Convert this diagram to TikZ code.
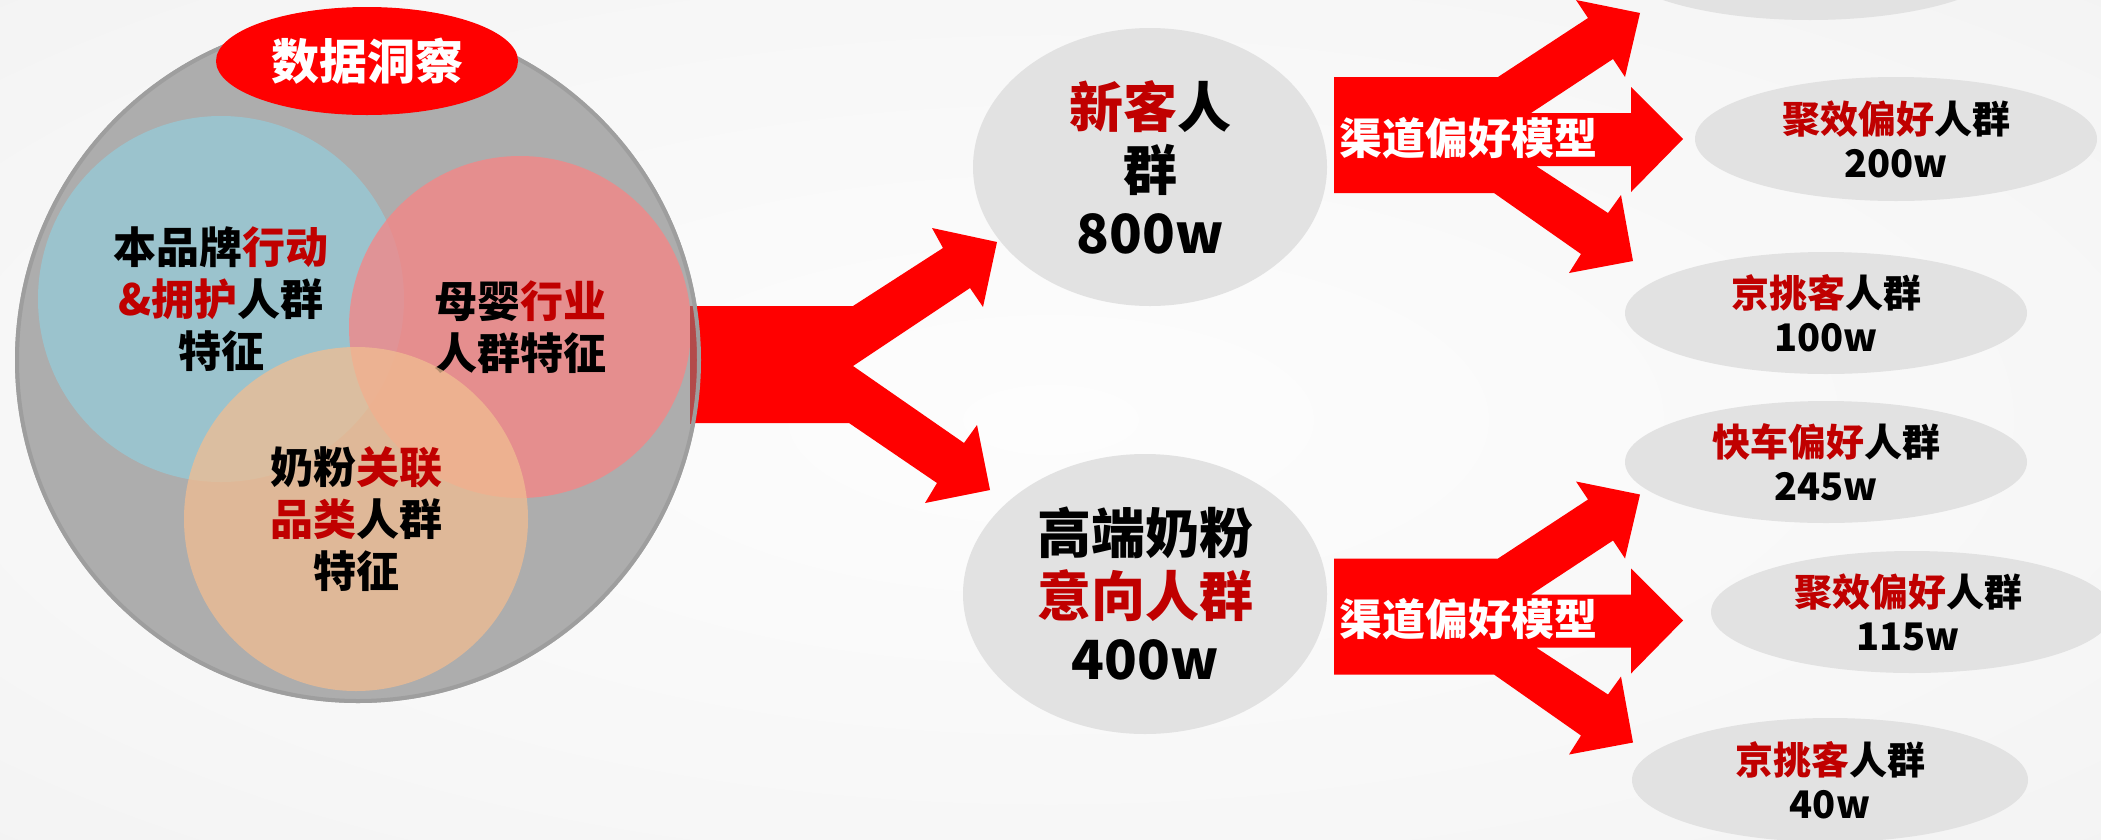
\documentclass[tikz,border=0pt]{standalone}
\usepackage{fontspec}
\setmainfont{Noto Sans CJK SC}
\usetikzlibrary{shapes.geometric}
\definecolor{cred}{HTML}{C00000}
\definecolor{bred}{HTML}{FF0000}
\definecolor{ellgray}{HTML}{E2E2E2}
\definecolor{biggray}{HTML}{ADADAD}
\definecolor{ringgray}{HTML}{9E9E9E}
\definecolor{stripred}{HTML}{B34A4A}
\definecolor{vblue}{RGB}{149,203,216}
\definecolor{vpink}{RGB}{248,132,132}
\definecolor{vorange}{RGB}{241,189,145}
\definecolor{bgA}{HTML}{FDFDFD}
\definecolor{bgB}{HTML}{F7F7F7}
\definecolor{bgC}{HTML}{E7E7E7}
\pgfdeclareradialshading{bgshade}{\pgfpoint{0bp}{0bp}}{color(0bp)=(bgA); color(25bp)=(bgB); color(71bp)=(bgC)}
\newcommand{\hl}[1]{\textcolor{cred}{#1}}
\begin{document}
\begin{tikzpicture}[x=1pt,y=-1pt,
  every node/.style={inner sep=0pt, outer sep=0pt},
  venn/.style={circle, fill opacity=0.75, text opacity=1, align=center, font=\fontsize{43}{52}\selectfont\bfseries},
  grayell/.style={ellipse, fill=ellgray},
  bigtxt/.style={align=center, font=\fontsize{54}{63}\selectfont\bfseries},
  smalltxt/.style={align=center, font=\fontsize{38}{44}\selectfont\bfseries},
  arrtxt/.style={text=white, font=\fontsize{43}{50}\selectfont\bfseries},
  blockarrow/.style={fill=bred},
]
\useasboundingbox (0,0) rectangle (2101,839);
\clip (0,0) rectangle (2101,839);
\shade[shading=bgshade] (0,0) rectangle (2101,839);

% big gray circle
\node[circle, fill=biggray, minimum size=686] (big) at (358,360) {};

% venn circles
\node[venn, fill=vblue, minimum size=366] (blue) at (221,299)
  {本品牌\hl{行动}\\\hl{\&拥护}人群\\特征};
\node[venn, fill=vpink, minimum size=342] (pink) at (520,327)
  {母婴\hl{行业}\\人群特征};
\node[venn, fill=vorange, minimum size=344] (orange) at (356,519)
  {奶粉\hl{关联}\\\hl{品类}人群\\特征};

% main fork arrow
\fill[blockarrow] (690,306) -- (853,306) -- (943,248) -- (932,228) -- (997,242)
  -- (983,307) -- (970,288) -- (853,366) -- (964,443) -- (977,425) -- (990,490)
  -- (925,503) -- (937,483) -- (849,423) -- (690,423) -- cycle;
\begin{scope}
  \clip (690,306) rectangle (703,423);
  \fill[stripred] (big.center) circle[radius=342];
\end{scope}
\draw[ringgray, line width=4] (big.center) circle[radius=341];

% title ellipse
\node[ellipse, fill=bred, minimum width=302, minimum height=108,
  text=white, font=\fontsize{48}{56}\selectfont\bfseries] (title) at (367,61) {数据洞察};

% middle ellipses
\node[grayell, minimum width=354, minimum height=278] (newc) at (1150,167) {};
\node[bigtxt] (newct) at (newc.center) {\hl{新客}人\\群\\800w};
\node[grayell, minimum width=364, minimum height=280] (high) at (1145,594) {};
\node[bigtxt] (hight) at (high.center) {高端奶粉\\\hl{意向人群}\\400w};

% small fork arrows
\foreach \dy/\nm in {0/chA, 481.5/chB}{
\begin{scope}[shift={(0,\dy)}]
\fill[blockarrow] (1334,77) -- (1498,77) -- (1588,18) -- (1576,0) -- (1640,13)
  -- (1625,77) -- (1613,59) -- (1531,113) -- (1631,113) -- (1631,87) -- (1683,139)
  -- (1631,192) -- (1631,166) -- (1536,166) -- (1608,213) -- (1621,195) -- (1633,261)
  -- (1569,273) -- (1581,254) -- (1494,193) -- (1334,193) -- cycle;
\node[arrtxt] (\nm) at (1468,138) {渠道偏好模型};
\end{scope}
}

% right ellipses
\node[grayell, minimum width=400, minimum height=124] (e0) at (1810,-42) {};
\node[grayell, minimum width=402, minimum height=124] (e1) at (1896,139) {};
\node[smalltxt] (e1t) at (e1.center) {\hl{聚效偏好}人群\\200w};
\node[grayell, minimum width=402, minimum height=122] (e2) at (1826,313) {};
\node[smalltxt] (e2t) at (e2.center) {\hl{京挑客}人群\\100w};
\node[grayell, minimum width=402, minimum height=122] (e3) at (1826,462) {};
\node[smalltxt] (e3t) at (e3.center) {\hl{快车偏好}人群\\245w};
\node[grayell, minimum width=402, minimum height=122] (e4) at (1912,612) {};
\node[smalltxt] (e4t) at (1908,612) {\hl{聚效偏好}人群\\115w};
\node[grayell, minimum width=396, minimum height=124] (e5) at (1830,780) {};
\node[smalltxt] (e5t) at (e5.center) {\hl{京挑客}人群\\40w};
\end{tikzpicture}
\end{document}
